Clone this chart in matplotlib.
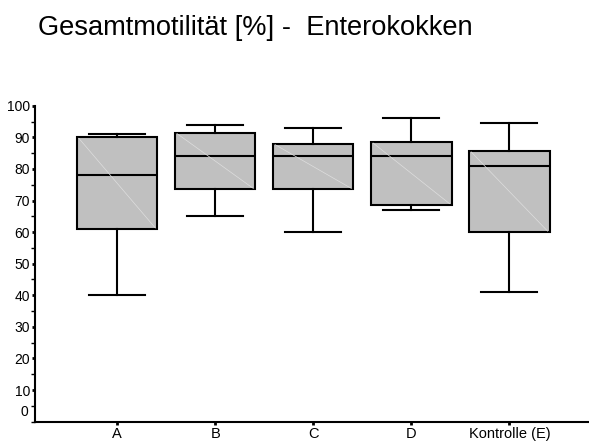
import matplotlib
matplotlib.use('Agg')
import matplotlib.pyplot as plt
from matplotlib.ticker import MultipleLocator

plt.rcParams['font.family'] = ['Liberation Sans', 'DejaVu Sans']

# values
groups = ['A', 'B', 'C', 'D', 'Kontrolle (E)']
whislo = [40, 65, 60, 67, 41]
q1 = [61, 73.5, 73.5, 68.7, 60]
med = [78, 84, 84, 84, 81]
q3 = [90, 91.5, 88, 88.5, 85.7]
whishi = [91, 94, 92.8, 96, 94.5]
yticks = [10, 20, 30, 40, 50, 60, 70, 80, 90, 100]

stats = []
for i in range(len(groups)):
    stats.append({'label': groups[i], 'whislo': whislo[i], 'q1': q1[i], 'med': med[i],
                  'q3': q3[i], 'whishi': whishi[i], 'fliers': []})

fig = plt.figure(figsize=(5.89, 4.41), dpi=100)
ax = fig.add_axes([0.0594, 0.0438, 0.9386, 0.7165])

pos = list(range(1, len(groups) + 1))
ax.bxp(stats, positions=pos, widths=0.82, patch_artist=True, showfliers=False,
       boxprops=dict(facecolor='#c0c0c0', edgecolor='black', linewidth=1.5),
       medianprops=dict(color='black', linewidth=1.5),
       whiskerprops=dict(color='black', linewidth=1.5),
       capprops=dict(color='black', linewidth=1.5),
       capwidths=0.57)

# faint diagonal inside each box (seen in the original rendering)
for i in range(len(groups)):
    ax.plot([pos[i] - 0.39, pos[i] + 0.39], [q3[i] - 0.3, q1[i] + 0.3],
            color='#dedede', linewidth=0.5, zorder=3)

ax.set_xlim(0.163, 5.8)
ax.set_ylim(0, 100)
ax.set_xticks(pos)
ax.set_xticklabels(groups, fontsize=10.5)
ax.set_yticks(yticks)
ax.set_yticklabels([str(t) for t in yticks], fontsize=10)
ax.yaxis.set_minor_locator(MultipleLocator(5))
ax.text(-0.012, 3.2, '0', transform=ax.get_yaxis_transform(), ha='right', va='center', fontsize=10)

ax.tick_params(axis='y', which='major', length=2.5, width=2, pad=1)
ax.tick_params(axis='y', which='minor', length=3, width=1)
ax.tick_params(axis='x', length=2, width=2, pad=2)
for s in ['top', 'right']:
    ax.spines[s].set_visible(False)
ax.spines['left'].set_linewidth(1.5)
ax.spines['bottom'].set_linewidth(1.5)

fig.text(38 / 589, 1 - 28 / 441, 'Gesamtmotilität [%] -  Enterokokken', fontsize=19.6, va='center', ha='left')

fig.savefig('out.png', dpi=100)
